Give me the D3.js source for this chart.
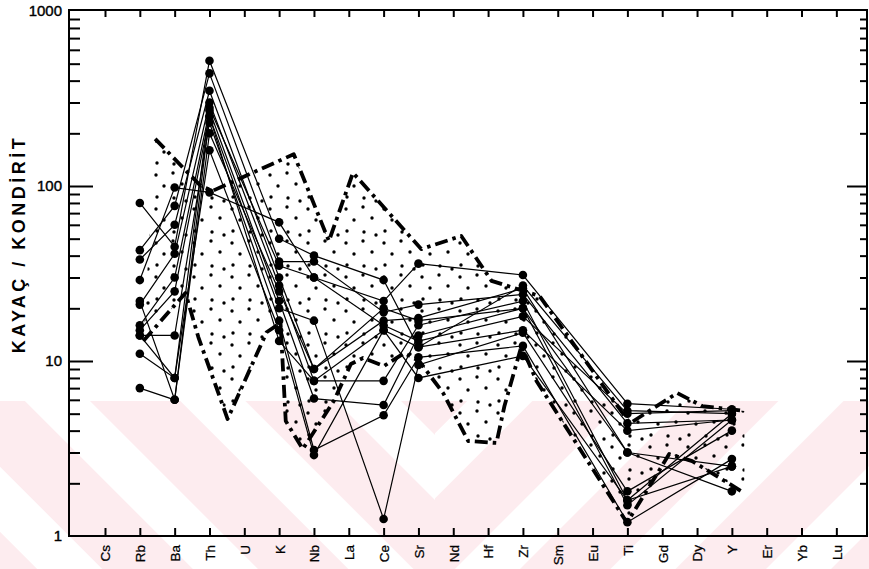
<!DOCTYPE html>
<html>
<head>
<meta charset="utf-8">
<script src="https://cdn.jsdelivr.net/npm/d3@7/dist/d3.min.js"></script>
<style>
  body { margin: 0; background: #fff; }
  text { font-family: 'Liberation Sans', Arial, sans-serif; }
</style>
</head>
<body>
<div id="chart"></div>
<script>
// element order along the x axis
var elements = ['Cs', 'Rb', 'Ba', 'Th', 'U', 'K', 'Nb', 'La', 'Ce', 'Sr', 'Nd',
                'Hf', 'Zr', 'Sm', 'Eu', 'Ti', 'Gd', 'Dy', 'Y', 'Er', 'Yb', 'Lu'];

// elements analysed in the samples
var sample_elements = ['Rb', 'Ba', 'Th', 'K', 'Nb', 'Ce', 'Sr', 'Zr', 'Ti', 'Y'];

// rock / chondrite values, one row per sample (same order as sample_elements)
var samples = [
    [29, 98, 92, 62, 30, 22, 36, 31, 5.7, 5.3],
    [80, 45, 520, 50, 40, 29, 12, 27, 5.2, 5.0],
    [43, 77, 440, 37, 37, 19, 21, 24, 4.4, 4.6],
    [38, 60, 350, 30, 9, 17, 17.6, 26, 3.0, 1.8],
    [21, 41, 300, 27, 7.7, 7.7, 16, 22, 1.6, 5.0],
    [16, 30, 270, 22, 6.1, 5.6, 14, 20, 1.5, 4.6],
    [15, 25, 250, 20, 17, 1.25, 9.5, 14.5, 1.8, 4.0],
    [14, 14, 230, 17, 3.1, 4.9, 10.5, 12.2, 1.2, 2.75],
    [11, 8, 160, 15, 2.9, 15, 8, 10.7, 1.6, 2.5],
    [7, 6, 250, 13, 7.7, 15, 12, 15, 4.0, 4.6],
    [22, 6, 200, 25, 9, 20, 17, 20, 3.0, 2.5],
    [14, 8, 280, 35, 30, 16, 13, 18, 5.0, 5.2]
];

// comparison field, [position on element axis, value]
var envelope_upper = [
    [1.44, 186], [2.75, 100], [3.1, 94], [5.42, 152], [6.43, 48.5], [7.12, 119],
    [9.08, 43.6], [10.23, 51.8], [11.1, 28.7], [12.48, 23.5], [15.07, 4.4],
    [16.43, 6.56], [17.15, 5.53], [18.36, 5.18]
];
var envelope_lower = [
    [1.1, 13.0], [2.31, 24.5], [2.68, 13.7], [3.52, 4.66], [4.64, 14.6], [5.04, 16.5],
    [5.19, 4.54], [5.68, 3.14], [6.57, 5.91], [7.06, 9.61], [7.41, 10.4], [8.01, 9.36],
    [8.59, 11.1], [9.02, 10], [9.71, 6.56], [10.43, 3.49], [11.24, 3.4], [11.47, 5.53],
    [11.96, 12.2], [12.39, 7.69], [14.99, 1.19], [16.2, 2.94], [16.86, 2.68], [18.36, 1.76]
];

var y_labels = [1, 10, 100, 1000];
var y_title = 'KAYAÇ / KONDİRİT';

var width = 869, height = 569;
var frame = { left: 69, right: 867, top: 10, bottom: 536 };

var svg = d3.select('#chart').append('svg')
    .attr('width', width)
    .attr('height', height);

var defs = svg.append('defs');

// stipple used inside the field
var stipple = defs.append('pattern')
    .attr('id', 'stipple')
    .attr('patternUnits', 'userSpaceOnUse')
    .attr('width', 38).attr('height', 34);
[[4, 5], [21, 3], [12, 16], [30, 14], [5, 27], [22, 28], [34, 31]].forEach(function(p) {
    stipple.append('circle').attr('cx', p[0]).attr('cy', p[1]).attr('r', 1.7).attr('fill', '#000');
});

// faint watermark stripes at the bottom of the scan
function stripePattern(id, angle) {
    var p = defs.append('pattern')
        .attr('id', id)
        .attr('patternUnits', 'userSpaceOnUse')
        .attr('width', 110).attr('height', 110)
        .attr('patternTransform', 'rotate(' + angle + ')');
    p.append('rect').attr('width', 64).attr('height', 110).attr('fill', '#fdecef');
}
stripePattern('wm_left', -45);
stripePattern('wm_right', 45);

svg.append('rect').attr('x', 0).attr('y', 401).attr('width', 435).attr('height', 168)
    .attr('fill', 'url(#wm_left)');
svg.append('rect').attr('x', 435).attr('y', 401).attr('width', 434).attr('height', 168)
    .attr('fill', 'url(#wm_right)');

var x = d3.scaleLinear().domain([0, 20.99]).range([105, 836]);
var y = d3.scaleLog().domain([1, 1000]).range([536, 11]);

// --- comparison field
var field = envelope_upper.concat(envelope_lower.slice().reverse());
svg.append('path')
    .attr('d', 'M' + field.map(function(d) { return x(d[0]) + ',' + y(d[1]); }).join('L') + 'Z')
    .attr('fill', 'url(#stipple)')
    .attr('stroke', 'none');

var env_line = d3.line()
    .x(function(d) { return x(d[0]); })
    .y(function(d) { return y(d[1]); });

[envelope_upper, envelope_lower].forEach(function(env) {
    svg.append('path')
        .attr('d', env_line(env))
        .attr('fill', 'none')
        .attr('stroke', '#000')
        .attr('stroke-width', 3.8)
        .attr('stroke-dasharray', '13,5,3.5,5')
        .attr('stroke-linejoin', 'round');
});

// --- sample lines
var sample_line = d3.line()
    .x(function(d) { return x(elements.indexOf(d.el)); })
    .y(function(d) { return y(d.v); });

samples.forEach(function(row) {
    var pts = row.map(function(v, i) { return { el: sample_elements[i], v: v }; });
    svg.append('path')
        .attr('d', sample_line(pts))
        .attr('fill', 'none')
        .attr('stroke', '#000')
        .attr('stroke-width', 1.2);
    svg.selectAll(null).data(pts).enter()
        .append('circle')
        .attr('cx', function(d) { return x(elements.indexOf(d.el)); })
        .attr('cy', function(d) { return y(d.v); })
        .attr('r', 4.3)
        .attr('fill', '#000');
});

// --- axes
var minors = [];
[1, 10, 100].forEach(function(dec) {
    for (var k = 2; k <= 9; k++) minors.push(dec * k);
});
var majors = [10, 100];

function styleAxis(g) {
    g.select('.domain').remove();
    g.selectAll('line').attr('stroke', '#000').attr('stroke-width', 2);
}

svg.append('g').attr('transform', 'translate(' + frame.left + ',0)')
    .call(d3.axisRight(y).tickValues(minors).tickSize(11).tickFormat(''))
    .call(styleAxis);
svg.append('g').attr('transform', 'translate(' + frame.left + ',0)')
    .call(d3.axisRight(y).tickValues(majors).tickSize(24).tickFormat(''))
    .call(styleAxis);
svg.append('g').attr('transform', 'translate(' + frame.right + ',0)')
    .call(d3.axisLeft(y).tickValues(minors).tickSize(7).tickFormat(''))
    .call(styleAxis);
svg.append('g').attr('transform', 'translate(' + frame.right + ',0)')
    .call(d3.axisLeft(y).tickValues(majors).tickSize(20).tickFormat(''))
    .call(styleAxis);

// y labels
var yl = svg.append('g').attr('transform', 'translate(' + frame.left + ',0)')
    .call(d3.axisLeft(y).tickValues(y_labels).tickSize(0).tickPadding(7).tickFormat(d3.format('d')));
yl.select('.domain').remove();
yl.selectAll('text')
    .attr('font-family', "'Liberation Sans', Arial, sans-serif")
    .attr('font-size', 15)
    .attr('fill', '#000')
    .attr('stroke', '#000').attr('stroke-width', 0.4);

// top ticks
svg.append('g').attr('transform', 'translate(0,' + frame.top + ')')
    .call(d3.axisBottom(x).tickValues(d3.range(elements.length)).tickSize(7).tickFormat(''))
    .call(styleAxis);

// bottom ticks with element names
var xb = svg.append('g').attr('transform', 'translate(0,' + frame.bottom + ')')
    .call(d3.axisBottom(x).tickValues(d3.range(elements.length))
        .tickSizeInner(-8).tickSizeOuter(0)
        .tickFormat(function(i) { return elements[i]; }))
    .call(styleAxis);
xb.selectAll('text')
    .attr('transform', 'rotate(-90)')
    .attr('x', -9)
    .attr('y', 0)
    .attr('dy', '0.36em')
    .attr('text-anchor', 'end')
    .attr('font-family', "'Liberation Sans', Arial, sans-serif")
    .attr('font-size', 13.5)
    .attr('fill', '#000')
    .attr('stroke', '#000').attr('stroke-width', 0.25);

// frame
svg.append('rect')
    .attr('x', frame.left).attr('y', frame.top)
    .attr('width', frame.right - frame.left)
    .attr('height', frame.bottom - frame.top)
    .attr('fill', 'none')
    .attr('stroke', '#000')
    .attr('stroke-width', 2);

// y title
svg.append('text')
    .attr('transform', 'translate(25,244) rotate(-90)')
    .attr('text-anchor', 'middle')
    .attr('font-size', 18)
    .attr('font-weight', 'bold')
    .attr('letter-spacing', 3.5)
    .attr('fill', '#000')
    .text(y_title);
</script>
</body>
</html>
